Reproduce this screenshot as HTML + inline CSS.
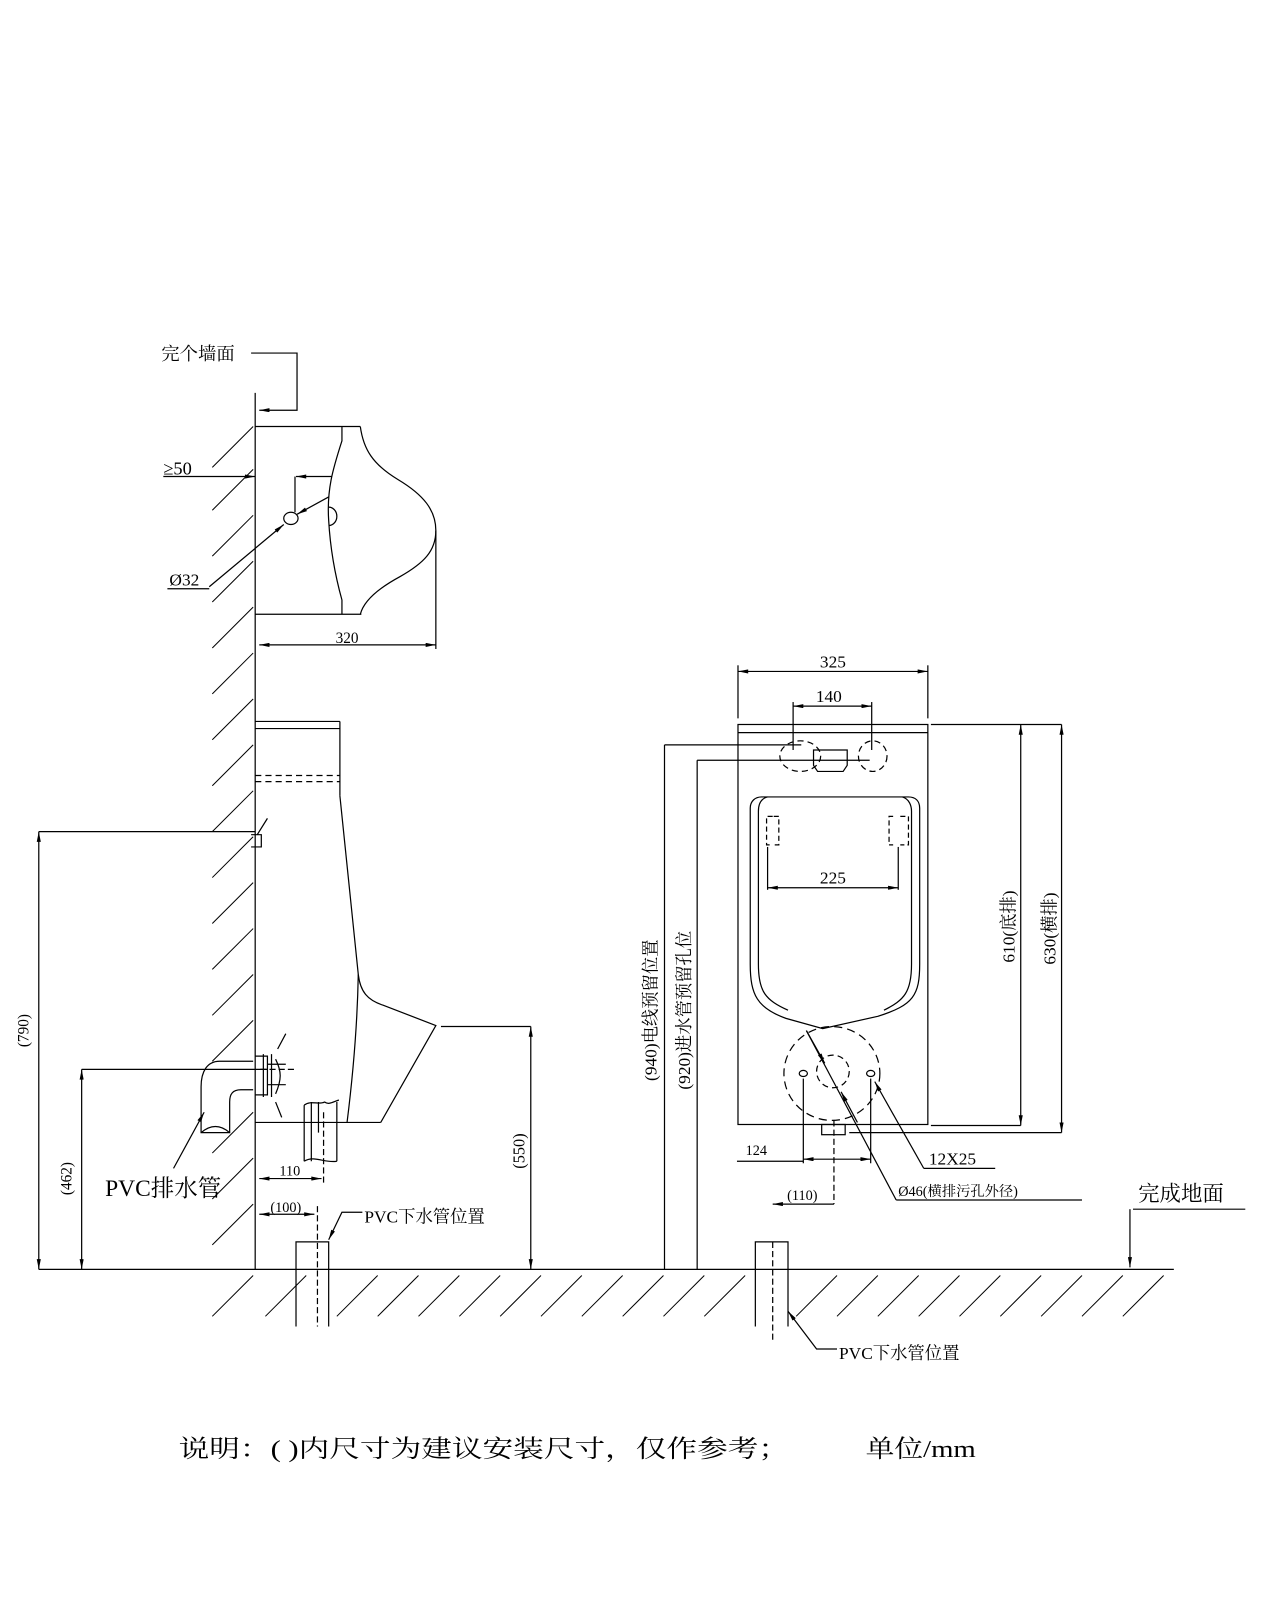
<!DOCTYPE html>
<html><head><meta charset="utf-8"><style>
html,body{margin:0;padding:0;background:#fff;}
svg{display:block;}
text{font-family:"Liberation Serif","Noto Serif CJK SC","Noto Sans CJK SC",serif;fill:#000;}
</style></head><body>
<svg width="1280" height="1600" viewBox="0 0 1254 1568" preserveAspectRatio="none" xmlns="http://www.w3.org/2000/svg">
<defs>
<marker id="a" viewBox="0 0 10 4" refX="10" refY="2" markerWidth="12" markerHeight="4" orient="auto-start-reverse" markerUnits="userSpaceOnUse"><path d="M0,0 L10,2 L0,4 Z" fill="#000"/></marker>
</defs>
<g stroke="#000" stroke-width="1.2" fill="none">
<line x1="250" y1="385" x2="250" y2="1244"/>
<g stroke-width="1">
<line x1="208" y1="458" x2="248" y2="418"/>
<line x1="208" y1="500" x2="248" y2="460"/>
<line x1="208" y1="545" x2="248" y2="505"/>
<line x1="208" y1="590" x2="248" y2="550"/>
<line x1="208" y1="635" x2="248" y2="595"/>
<line x1="208" y1="680" x2="248" y2="640"/>
<line x1="208" y1="725" x2="248" y2="685"/>
<line x1="208" y1="770" x2="248" y2="730"/>
<line x1="208" y1="815" x2="248" y2="775"/>
<line x1="208" y1="860" x2="248" y2="820"/>
<line x1="208" y1="905" x2="248" y2="865"/>
<line x1="208" y1="950" x2="248" y2="910"/>
<line x1="208" y1="995" x2="248" y2="955"/>
<line x1="208" y1="1040" x2="248" y2="1000"/>
<line x1="208" y1="1130" x2="248" y2="1090"/>
<line x1="208" y1="1175" x2="248" y2="1135"/>
<line x1="208" y1="1220" x2="248" y2="1180"/>
<line x1="208" y1="1290" x2="248" y2="1250"/>
<line x1="260" y1="1290" x2="300" y2="1250"/>
<line x1="330" y1="1290" x2="370" y2="1250"/>
<line x1="370" y1="1290" x2="410" y2="1250"/>
<line x1="410" y1="1290" x2="450" y2="1250"/>
<line x1="450" y1="1290" x2="490" y2="1250"/>
<line x1="490" y1="1290" x2="530" y2="1250"/>
<line x1="530" y1="1290" x2="570" y2="1250"/>
<line x1="570" y1="1290" x2="610" y2="1250"/>
<line x1="610" y1="1290" x2="650" y2="1250"/>
<line x1="650" y1="1290" x2="690" y2="1250"/>
<line x1="690" y1="1290" x2="730" y2="1250"/>
<line x1="780" y1="1290" x2="820" y2="1250"/>
<line x1="820" y1="1290" x2="860" y2="1250"/>
<line x1="860" y1="1290" x2="900" y2="1250"/>
<line x1="900" y1="1290" x2="940" y2="1250"/>
<line x1="940" y1="1290" x2="980" y2="1250"/>
<line x1="980" y1="1290" x2="1020" y2="1250"/>
<line x1="1020" y1="1290" x2="1060" y2="1250"/>
<line x1="1060" y1="1290" x2="1100" y2="1250"/>
<line x1="1100" y1="1290" x2="1140" y2="1250"/>
</g>
<line x1="38" y1="1244" x2="1150" y2="1244"/>

<polyline points="246,346 291,346 291,402 254,402" marker-end="url(#a)"/>

<line x1="250" y1="418" x2="353" y2="418"/>
<line x1="250" y1="602" x2="354" y2="602"/>
<path d="M335,418 L335,432 C326,460 320,480 322,510 C324,545 330,570 335,588 L335,602"/>
<path d="M353,418 C356,440 365,455 390,470 C415,485 427,500 427,520 C427,540 415,552 392,565 C368,578 356,590 353,602"/>
<path d="M322,497 A8,9 0 0 1 322,515"/>
<line x1="427" y1="520" x2="427" y2="636"/>
<line x1="254" y1="632" x2="427" y2="632" marker-start="url(#a)" marker-end="url(#a)"/>
<line x1="160" y1="467" x2="250" y2="467" marker-end="url(#a)"/>
<line x1="325" y1="467" x2="290" y2="467" marker-end="url(#a)"/>
<line x1="289" y1="467" x2="289" y2="502"/>
<ellipse cx="285" cy="508" rx="7" ry="6"/>
<line x1="322" y1="487" x2="291" y2="504" marker-end="url(#a)"/>
<line x1="205" y1="575" x2="278" y2="514" marker-end="url(#a)"/>
<line x1="164" y1="577" x2="205" y2="577"/>

<line x1="250" y1="707" x2="333" y2="707"/>
<line x1="250" y1="714" x2="333" y2="714"/>
<line x1="333" y1="707" x2="333" y2="780"/>
<line x1="250" y1="760" x2="333" y2="760" stroke-dasharray="6,4"/>
<line x1="250" y1="766" x2="333" y2="766" stroke-dasharray="6,4"/>
<path d="M333,780 L351,955 C353,972 360,980 375,985 L427,1005 L373,1100"/>
<path d="M351,955 C350,1010 345,1060 340,1100"/>
<line x1="250" y1="1100" x2="373" y2="1100"/>
<path d="M246,818 L256,818 L256,830 L246,830 M252,818 L262,802"/>
<line x1="38" y1="815" x2="250" y2="815"/>
<line x1="38" y1="815" x2="38" y2="1244" marker-start="url(#a)" marker-end="url(#a)"/>
<line x1="80" y1="1048" x2="262" y2="1048"/>
<line x1="80" y1="1048" x2="80" y2="1244" marker-start="url(#a)" marker-end="url(#a)"/>
<line x1="432" y1="1006" x2="520" y2="1006"/>
<line x1="520" y1="1006" x2="520" y2="1244" marker-start="url(#a)" marker-end="url(#a)"/>
<path d="M248,1040 L215,1040 C203,1040 197,1050 197,1065 L197,1110 L225,1110 L225,1080 C225,1072 228,1068 236,1068 L248,1068"/>
<path d="M197,1110 Q211,1098 225,1110"/>
<path d="M250,1035 L262,1035 L262,1073 L250,1073 M258,1033 L258,1075 M266,1033 L266,1075 M262,1043 L280,1043 M262,1063 L280,1063 M270,1038 C276,1050 276,1058 270,1072 M272,1028 L280,1013 M270,1080 L276,1095"/>
<line x1="255" y1="1048" x2="290" y2="1048" stroke-dasharray="6,3"/>
<line x1="170" y1="1145" x2="200" y2="1090" marker-end="url(#a)"/>
<path d="M298,1083 L298,1138 M330,1080 L330,1138 M298,1083 C305,1078 312,1083 318,1080 C322,1083 326,1080 332,1078 M298,1138 C308,1132 318,1140 330,1138 M305,1080 L305,1138 M312,1080 L312,1110"/>
<line x1="317" y1="1090" x2="317" y2="1160" stroke-dasharray="6,3"/>
<line x1="254" y1="1155" x2="315" y2="1155" marker-start="url(#a)" marker-end="url(#a)"/>
<line x1="254" y1="1190" x2="308" y2="1190" marker-start="url(#a)" marker-end="url(#a)"/>
<path d="M290,1300 L290,1217 L322,1217 L322,1300"/>
<line x1="311" y1="1182" x2="311" y2="1300" stroke-dasharray="6,3"/>
<polyline points="355,1188 335,1188 322,1215" marker-end="url(#a)"/>

<rect x="723" y="710" width="186" height="392"/>
<line x1="723" y1="718" x2="909" y2="718"/>
<line x1="723" y1="652" x2="723" y2="704"/>
<line x1="909" y1="652" x2="909" y2="704"/>
<line x1="723" y1="658" x2="909" y2="658" marker-start="url(#a)" marker-end="url(#a)"/>
<line x1="777" y1="688" x2="777" y2="735"/>
<line x1="854" y1="688" x2="854" y2="735"/>
<line x1="777" y1="692" x2="854" y2="692" marker-start="url(#a)" marker-end="url(#a)"/>
<ellipse cx="784" cy="741" rx="20" ry="15" stroke-dasharray="6,4"/>
<ellipse cx="855" cy="741" rx="14" ry="15" stroke-dasharray="6,4"/>
<path d="M797,735 L830,735 L830,750 L826,756 L801,756 L797,750 Z"/>
<path d="M746,781 L890,781 C897,781 901,785 901,792 L901,945 C901,975 895,985 860,996 L806,1008 L770,998 C742,988 735,975 735,945 L735,792 C735,785 740,781 746,781 Z"/>
<path d="M752,781 C744,783 743,790 743,795 L743,945 C743,972 750,980 772,990 M884,781 C891,783 893,790 893,795 L893,945 C893,972 886,980 866,990"/>
<path d="M757,800 L751,800 L751,828 L757,828 M758,800 L763,800 L763,828 L758,828" stroke-dasharray="5,3"/>
<path d="M875,800 L871,800 L871,828 L875,828 M882,800 L890,800 L890,828 L882,828" stroke-dasharray="5,3"/>
<line x1="752" y1="830" x2="752" y2="872"/>
<line x1="880" y1="830" x2="880" y2="872"/>
<line x1="752" y1="870" x2="880" y2="870" marker-start="url(#a)" marker-end="url(#a)"/>
<ellipse cx="815" cy="1052" rx="47" ry="46" stroke-dasharray="8,5"/>
<ellipse cx="816" cy="1050" rx="16" ry="16" stroke-dasharray="6,4"/>
<ellipse cx="787" cy="1052" rx="4" ry="3"/>
<ellipse cx="853" cy="1052" rx="4" ry="3"/>
<rect x="805" y="1102" width="23" height="10"/>
<line x1="817" y1="1098" x2="817" y2="1180" stroke-dasharray="6,3"/>
<line x1="912" y1="710" x2="1040" y2="710"/>
<line x1="912" y1="1103" x2="1000" y2="1103"/>
<line x1="832" y1="1110" x2="1040" y2="1110"/>
<line x1="1000" y1="710" x2="1000" y2="1103" marker-start="url(#a)" marker-end="url(#a)"/>
<line x1="1040" y1="710" x2="1040" y2="1110" marker-start="url(#a)" marker-end="url(#a)"/>
<line x1="651" y1="730" x2="785" y2="730"/>
<line x1="651" y1="730" x2="651" y2="1244"/>
<line x1="683" y1="745" x2="852" y2="745"/>
<line x1="683" y1="745" x2="683" y2="1244"/>
<line x1="787" y1="1057" x2="787" y2="1140"/>
<line x1="853" y1="1057" x2="853" y2="1140"/>
<line x1="787" y1="1136" x2="853" y2="1136" marker-start="url(#a)" marker-end="url(#a)"/>
<line x1="722" y1="1138" x2="787" y2="1138"/>
<line x1="905" y1="1145" x2="857" y2="1060" marker-end="url(#a)"/>
<line x1="905" y1="1145" x2="975" y2="1145"/>
<line x1="878" y1="1176" x2="790" y2="1010"/>
<line x1="790" y1="1010" x2="808" y2="1042" marker-end="url(#a)"/>
<line x1="840" y1="1100" x2="824" y2="1070" marker-end="url(#a)"/>
<line x1="878" y1="1176" x2="1060" y2="1176"/>
<line x1="757" y1="1180" x2="817" y2="1180" marker-start="url(#a)"/>
<path d="M740,1300 L740,1217 L772,1217 L772,1300"/>
<line x1="757" y1="1217" x2="757" y2="1315" stroke-dasharray="6,3"/>
<polyline points="820,1322 800,1322 772,1285" marker-end="url(#a)"/>
<line x1="1110" y1="1185" x2="1220" y2="1185"/>
<line x1="1107" y1="1185" x2="1107" y2="1242" marker-end="url(#a)"/>
</g>

<g font-size="17">
<text x="158" y="353" font-size="18">完个墙面</text>
<text x="160" y="465" font-size="18">≥50</text>
<text x="166" y="574" font-size="17">Ø32</text>
<text x="340" y="630" text-anchor="middle" font-size="15">320</text>
<text x="103" y="1172" font-size="23">PVC排水管</text>
<text x="284" y="1152" text-anchor="middle" font-size="14">110</text>
<text x="280" y="1188" text-anchor="middle" font-size="14">(100)</text>
<text x="357" y="1198" font-size="17">PVC下水管位置</text>
<text transform="translate(28,1010) rotate(-90)" text-anchor="middle" font-size="15">(790)</text>
<text transform="translate(70,1155) rotate(-90)" text-anchor="middle" font-size="15">(462)</text>
<text transform="translate(514,1128) rotate(-90)" text-anchor="middle" font-size="16">(550)</text>
<text x="816" y="654" text-anchor="middle" font-size="17">325</text>
<text x="812" y="688" text-anchor="middle" font-size="17">140</text>
<text x="816" y="866" text-anchor="middle" font-size="17">225</text>
<text transform="translate(994,908) rotate(-90)" text-anchor="middle" font-size="17">610(底排)</text>
<text transform="translate(1034,910) rotate(-90)" text-anchor="middle" font-size="17">630(横排)</text>
<text transform="translate(643,990) rotate(-90)" text-anchor="middle" font-size="17">(940)电线预留位置</text>
<text transform="translate(676,990) rotate(-90)" text-anchor="middle" font-size="17">(920)进水管预留孔位</text>
<text x="741" y="1132" text-anchor="middle" font-size="14">124</text>
<text x="910" y="1141" font-size="17">12X25</text>
<text x="880" y="1172" font-size="14">Ø46(横排污孔外径)</text>
<text x="786" y="1176" text-anchor="middle" font-size="14">(110)</text>
<text x="822" y="1332" font-size="17">PVC下水管位置</text>
<text x="1115" y="1177" font-size="21">完成地面</text>
<text x="175" y="1428" font-size="24" textLength="598" lengthAdjust="spacingAndGlyphs">说明：( )内尺寸为建议安装尺寸，仅作参考；</text>
<text x="848" y="1428" font-size="24" textLength="108" lengthAdjust="spacingAndGlyphs">单位/mm</text>
</g>
</svg>
</body></html>
